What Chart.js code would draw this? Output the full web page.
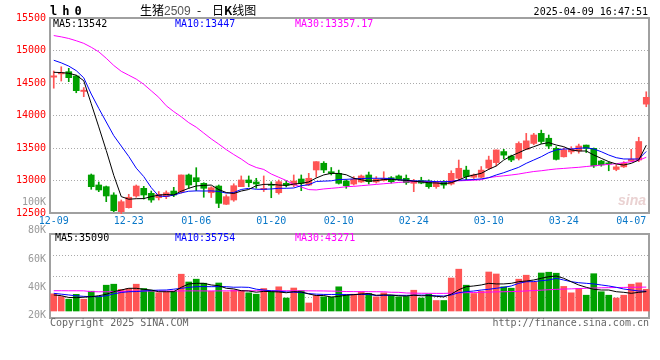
<!DOCTYPE html>
<html>
<head>
<meta charset="utf-8">
<script src="https://cdn.jsdelivr.net/npm/chart.js@4.4.1/dist/chart.umd.min.js"></script>
<style>
html, body { margin: 0; padding: 0; background: #fff; }
#wrap { position: relative; width: 660px; height: 360px; overflow: hidden; font: 10px/10px "DejaVu Sans Mono", monospace; }
#wrap canvas { position: absolute; left: 0; top: 0; }
.t { position: absolute; white-space: pre; }
</style>
</head>
<body>
<div id="wrap">
  <canvas id="kline" width="660" height="360"></canvas>
  <div class="t" style="left:50px;top:5px;font:bold 12px/12px 'DejaVu Sans Mono';letter-spacing:5px">lh0</div>
  <div class="t" style="left:140px;top:4px;font:12px/12px 'Noto Sans CJK SC'">生猪<span style="font-family:'Liberation Sans';color:#555">2509</span></div>
  <div class="t" style="left:197px;top:4px;font:12px/12px 'Noto Sans CJK SC'">-</div>
  <div class="t" style="left:212px;top:4px;font:12px/12px 'Noto Sans CJK SC'">日<b>K</b>线图</div>
  <div class="t" style="right:12px;top:7px">2025-04-09 16:47:51</div>
  <div class="t" style="left:53px;top:19px;color:#000">MA5:13542</div>
  <div class="t" style="left:175px;top:19px;color:#00f">MA10:13447</div>
  <div class="t" style="left:295px;top:19px;color:#f0f">MA30:13357.17</div>
  <div class="t" style="left:55px;top:233px;color:#000">MA5:35090</div>
  <div class="t" style="left:175px;top:233px;color:#00f">MA10:35754</div>
  <div class="t" style="left:295px;top:233px;color:#f0f">MA30:43271</div>
  <div class="t" style="left:50px;top:318px;color:#666">Copyright 2025 SINA.COM</div>
  <div class="t" style="right:11px;top:318px;color:#666">http://finance.sina.com.cn</div>
  <div class="t" style="left:618px;top:193px;font:italic bold 14px/14px 'Liberation Sans';color:#ead2d2">sina</div>
</div>
<script>
// trading days shown on the chart
const dates = [
  '12-09','12-10','12-11','12-12','12-13','12-16','12-17','12-18','12-19','12-20',
  '12-23','12-24','12-25','12-26','12-27','12-30','12-31','01-02','01-03','01-06',
  '01-07','01-08','01-09','01-10','01-13','01-14','01-15','01-16','01-17','01-20',
  '01-21','01-22','01-23','01-24','01-27','02-05','02-06','02-07','02-10','02-11',
  '02-12','02-13','02-14','02-17','02-18','02-19','02-20','02-21','02-24','02-25',
  '02-26','02-27','02-28','03-03','03-04','03-05','03-06','03-07','03-10','03-11',
  '03-12','03-13','03-14','03-17','03-18','03-19','03-20','03-21','03-24','03-25',
  '03-26','03-27','03-28','03-31','04-01','04-02','04-03','04-07','04-08','04-09'
];
const opens = [
  14590,14640,14674,14608,14370,13085,12931,12905,12777,12520,
  12582,12762,12880,12803,12735,12751,12838,12828,13085,13043,
  12957,12812,12915,12634,12700,12905,13008,12977,12860,12940,
  12812,12957,12930,13023,12930,13162,13265,13135,13110,12992,
  12946,12977,13085,12977,13000,13043,13070,13034,12957,13000,
  12992,12905,12982,12946,13034,13160,13050,13050,13190,13275,
  13445,13375,13340,13480,13570,13725,13650,13495,13365,13440,
  13455,13545,13495,13300,13270,13170,13210,13300,13315,14175
];
const highs = [
  14685,14750,14726,14620,14430,13100,12977,12915,12812,12700,
  12788,12931,12910,12838,12830,12840,12895,13085,13100,13197,
  12966,12905,12931,12780,12950,13070,13070,13034,13070,12980,
  13008,13000,13085,13085,13110,13290,13290,13200,13160,13010,
  13060,13085,13130,13060,13135,13060,13085,13085,13018,13050,
  13010,12980,13000,13150,13315,13220,13100,13215,13375,13470,
  13480,13390,13595,13725,13725,13775,13700,13520,13500,13520,
  13560,13545,13500,13310,13285,13240,13290,13480,13665,14365
];
const lows = [
  14420,14530,14520,14350,14290,12865,12828,12674,12520,12490,
  12575,12742,12715,12665,12700,12720,12751,12805,12880,12843,
  12742,12738,12582,12630,12680,12905,12905,12880,12830,12735,
  12790,12900,12905,12843,12920,13050,13120,13085,12945,12880,
  12930,12970,12946,12960,12990,12960,13010,12940,12828,12950,
  12880,12880,12880,12930,13010,13010,13030,13040,13170,13225,
  13335,13290,13315,13480,13550,13570,13490,13315,13360,13410,
  13420,13430,13200,13220,13150,13150,13200,13290,13290,14135
];
const closes = [
  14610,14660,14582,14382,14390,12905,12854,12762,12535,12674,
  12742,12915,12777,12700,12788,12812,12777,13085,12931,12982,
  12880,12889,12649,12751,12920,13008,12966,12946,12880,12925,
  12982,12926,12992,12957,13034,13290,13162,13110,12957,12920,
  13018,13070,12982,13018,13030,12982,13018,12966,12992,12960,
  12905,12972,12930,13110,13188,13060,13085,13160,13315,13470,
  13390,13315,13570,13610,13700,13600,13530,13325,13470,13480,
  13530,13495,13225,13240,13255,13210,13265,13325,13600,14280
];
const ma5 = [
  14665,14660,14650,14620,14535,14180,13825,13462,13080,12752,
  12712,12720,12722,12752,12775,12785,12778,12835,12880,12916,
  12925,12930,12860,12815,12800,12838,12862,12920,12940,12942,
  12930,12925,12945,12956,12978,13038,13086,13110,13108,13088,
  13034,13012,12990,12998,13015,13018,13008,13002,12988,12980,
  12965,12962,12950,12966,13008,13058,13085,13110,13172,13223,
  13315,13377,13428,13480,13520,13562,13582,13546,13520,13470,
  13454,13454,13392,13341,13290,13254,13238,13264,13315,13542
];
const ma10 = [
  14850,14810,14760,14690,14580,14330,14110,13900,13690,13530,
  13370,13190,13060,12890,12760,12755,12775,12810,12835,12840,
  12838,12840,12832,12806,12815,12862,12880,12865,12865,12870,
  12880,12880,12885,12920,12935,12985,12990,12995,13015,13018,
  13025,13030,13034,13034,13034,13030,13010,13005,12995,12992,
  12990,12982,12980,12985,13005,13010,13015,13025,13043,13085,
  13120,13162,13203,13264,13315,13366,13428,13470,13485,13485,
  13495,13503,13485,13443,13392,13351,13331,13331,13331,13447
];
const ma30 = [
  15230,15210,15185,15150,15110,15050,14980,14880,14770,14680,
  14620,14560,14480,14380,14280,14150,14060,13980,13890,13820,
  13730,13640,13560,13475,13400,13330,13250,13200,13170,13100,
  13050,13000,12940,12900,12860,12855,12870,12880,12890,12905,
  12910,12920,12930,12940,12950,12960,12970,12978,12982,12982,
  12982,12982,12982,12990,12995,13000,13005,13012,13045,13060,
  13072,13085,13100,13120,13138,13150,13165,13178,13186,13195,
  13203,13215,13226,13238,13248,13258,13275,13288,13311,13357.17
];
const vols = [
  31100,26200,21400,30200,21400,35800,25700,46700,48500,38900,
  40700,48500,40700,37600,33200,34600,35800,66600,52500,57600,
  50300,35800,50700,34600,38000,36700,32900,30400,40700,35300,
  43800,23500,41600,36700,14500,28100,25700,25000,43800,28600,
  30400,35000,31700,25600,32900,28400,25600,26200,37600,23500,
  30400,19000,19000,59700,75700,46700,31700,35800,70600,67000,
  43800,41300,57600,64800,52100,68800,70200,68400,44500,32900,
  40700,28600,67500,34800,28600,23500,28600,48500,51000,39300
];
const volMa5 = [
  29000,27700,24500,24100,25000,25900,27700,30200,34900,38000,
  41100,41100,39300,38000,34900,34900,34900,42900,48900,50100,
  50100,47100,45800,41100,40000,36700,36200,34000,35500,35000,
  34500,33000,35000,34500,30800,28000,28000,25300,26500,28600,
  29500,30800,31500,28500,29200,29000,27500,27000,28600,27500,
  27800,26500,25500,30500,38500,44000,45300,47100,50100,49000,
  49000,50100,53000,54300,56100,59200,62100,63300,59200,53000,
  47100,42900,39300,38000,38000,34900,33800,32000,33800,35090
];
const volMa10 = [
  32000,30500,29000,27500,26500,26000,26000,27500,31000,33500,
  34900,35200,36200,37200,37800,38000,39500,41000,42800,44000,
  44200,44000,44200,44000,43000,43200,42800,39500,38000,36500,
  36000,34500,34000,33500,31500,30500,30000,29900,30000,29900,
  29800,30000,29900,27800,28200,28400,28400,28300,28600,28800,
  28500,27500,27100,29000,33100,35000,36200,38000,39300,41100,
  42900,45300,50100,53000,53200,54800,56100,59200,56100,53000,
  51200,50100,49000,47100,45300,42900,39800,38000,36200,35754
];
const volMa30 = [
  36700,36700,36600,36600,36500,35000,34800,34800,35000,35200,
  36000,36100,36200,36200,36300,36200,36200,36300,36400,36400,
  36300,36300,36400,36500,36500,36600,36700,36700,36700,36600,
  36700,36600,36600,36600,36500,36400,36300,36000,35800,35200,
  35100,35000,35000,34900,34800,33900,33800,32600,32300,32100,
  32000,31900,31900,32300,32800,33200,33500,33800,34200,34600,
  34900,35100,35600,36300,37000,37700,38500,39200,39700,40100,
  40600,41100,41600,42000,42300,42500,42700,42900,43100,43271
];

const priceTicks = [12500, 13000, 13500, 14000, 14500, 15000, 15500];
const volTicks = [20000, 40000, 60000, 80000, 100000];
const dateTicks = ['12-09','12-23','01-06','01-20','02-10','02-24','03-10','03-24','04-07'];
const gridDates = ['12-23','01-06','01-20','02-10','02-24','03-10','03-24'];

const UP = '#ff5555', DOWN = '#00a000';
const candleColors = closes.map((c, i) => c >= opens[i] ? UP : DOWN);
const monoFont = { family: 'DejaVu Sans Mono', size: 10 };
const GRID = '#aaaaaa';

// panel frames, the blank strip between the two panels and the volume panel divisions
const panelPlugin = {
  id: 'panels',
  beforeDatasetsDraw(chart) {
    const { ctx, chartArea: a, scales } = chart;
    const left = a.left, right = a.right - 1;
    const pTop = Math.round(scales.yP.getPixelForValue(priceTicks[priceTicks.length - 1]));
    const pBot = Math.round(scales.yP.getPixelForValue(priceTicks[0]));
    const vTop = pBot + 21, vBot = a.bottom;
    ctx.save();
    ctx.fillStyle = '#fff';
    ctx.fillRect(a.left, pBot + 1, a.right - a.left, vTop - pBot - 2);
    ctx.strokeStyle = GRID;
    ctx.lineWidth = 1;
    ctx.setLineDash([1, 2]);
    for (let k = 1; k < 4; k++) {
      const y = Math.floor(vTop + k * (vBot - vTop) / 4) + 0.5;
      ctx.beginPath();
      ctx.moveTo(left, y);
      ctx.lineTo(right, y);
      ctx.stroke();
    }
    ctx.setLineDash([]);
    ctx.strokeStyle = '#a0a0a0';
    ctx.lineWidth = 2;
    ctx.strokeRect(left, pTop, right - left, pBot - pTop);
    ctx.strokeRect(left, vTop, right - left, vBot - vTop);
    ctx.restore();
  }
};

const lineDs = (label, data, axis, color, order) => ({
  type: 'line', label, data, yAxisID: axis, borderColor: color,
  borderWidth: 1, pointRadius: 0, tension: 0, fill: false, order
});

new Chart(document.getElementById('kline'), {
  type: 'bar',
  data: {
    labels: dates,
    datasets: [
      lineDs('MA5', ma5, 'yP', '#000', 1),
      lineDs('MA10', ma10, 'yP', '#00f', 2),
      lineDs('MA30', ma30, 'yP', '#f0f', 3),
      { type: 'bar', label: 'body', data: opens.map((o, i) => [o, closes[i]]), yAxisID: 'yP',
        backgroundColor: candleColors, barThickness: 6, grouped: false, minBarLength: 1, order: 4 },
      { type: 'bar', label: 'wick', data: lows.map((l, i) => [l, highs[i]]), yAxisID: 'yP',
        backgroundColor: candleColors, barThickness: 1, grouped: false, order: 5 },
      { type: 'bar', label: 'volume', data: vols, yAxisID: 'yV',
        backgroundColor: candleColors, barThickness: 6, grouped: false, order: 4 },
      lineDs('VMA5', volMa5, 'yV', '#000', 1),
      lineDs('VMA10', volMa10, 'yV', '#00f', 2),
      lineDs('VMA30', volMa30, 'yV', '#f0f', 3)
    ]
  },
  options: {
    responsive: false,
    animation: false,
    events: [],
    layout: { padding: { left: 0, right: 10, top: 18, bottom: 42 } },
    plugins: { legend: { display: false }, tooltip: { enabled: false } },
    scales: {
      x: {
        type: 'category',
        offset: true,
        position: { yP: priceTicks[0] },
        grid: {
          offset: false, drawTicks: false,
          color: c => gridDates.includes(dates[c.index]) ? GRID : 'rgba(0,0,0,0)'
        },
        border: { display: false, dash: [1, 2] },
        ticks: {
          autoSkip: false, maxRotation: 0, padding: 2, z: 1,
          color: '#0a78c8', font: monoFont,
          callback: (v, i) => dateTicks.includes(dates[i]) ? dates[i] : null
        }
      },
      yP: {
        position: 'left',
        min: 15500 - 3000 * 300 / 195, max: 15500,
        afterBuildTicks: s => { s.ticks = priceTicks.map(v => ({ value: v })); },
        afterFit: s => { s.width = 50; },
        grid: {
          drawTicks: false,
          color: c => (c.tick && c.tick.value > priceTicks[0] && c.tick.value < priceTicks[priceTicks.length - 1]) ? GRID : 'rgba(0,0,0,0)'
        },
        border: { display: false, dash: [1, 2] },
        ticks: { padding: 4, color: '#f00', font: monoFont, callback: v => String(v) }
      },
      // volume labels share the left gutter with the price labels
      yVL: {
        position: { x: -0.5 - 4 / 7.5 },
        min: 18200, max: 230900,
        afterBuildTicks: s => { s.ticks = volTicks.map(v => ({ value: v })); },
        grid: { display: false, drawTicks: false },
        border: { display: false },
        ticks: { padding: 0, color: '#999', font: monoFont, callback: v => (v / 1000) + 'K' }
      },
      yV: { display: false, min: -12670, max: 530330 }
    }
  },
  plugins: [panelPlugin]
});
</script>
</body>
</html>
